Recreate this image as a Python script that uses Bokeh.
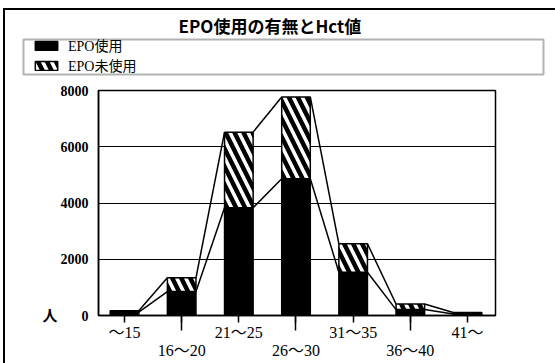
from bokeh.plotting import figure
from bokeh.layouts import column, row
from bokeh.models import (Range1d, FixedTicker, Legend, LegendItem,
                          ColumnDataSource, LinearAxis, BoxAnnotation)
from bokeh.embed import file_html
from bokeh.resources import INLINE

# ---- data ----
categories = ["〜15", "16〜20", "21〜25", "26〜30", "31〜35", "36〜40", "41〜"]
epo_used = [120, 850, 3830, 4860, 1540, 210, 50]
epo_not_used = [50, 490, 2690, 2910, 1010, 200, 60]
y_ticks = [0, 2000, 4000, 6000, 8000]
series_names = ["EPO使用", "EPO未使用"]
title_text = "EPO使用の有無とHct値"
y_unit = "人"

SERIF = "Liberation Serif, Noto Sans CJK JP"
SANS = "Noto Sans CJK JP"
BAR_W = 0.5
USED_STYLE = dict(fill_color="black", line_color="black", line_width=1.5)
NOT_STYLE = dict(fill_color="white", line_color="black", line_width=1.5,
                 hatch_pattern="\\", hatch_color="black",
                 hatch_scale=18, hatch_weight=4.5)

xs = list(range(len(categories)))
totals = [a + b for a, b in zip(epo_used, epo_not_used)]
src = ColumnDataSource(dict(x=xs, used=epo_used, total=totals))

# ---------------- header: title + legend ----------------
head = figure(width=550, height=70, x_range=Range1d(0, 1), y_range=Range1d(0, 1),
              x_axis_type=None, y_axis_type=None,
              output_backend="svg", toolbar_location=None,
              min_border_left=0, min_border_right=0,
              min_border_top=0, min_border_bottom=0,
              background_fill_color="white", border_fill_color="white")
head.outline_line_color = None
head.grid.visible = False
head.title.text = title_text
head.title.text_font = SANS
head.title.text_font_style = "bold"
head.title.text_font_size = "17px"
head.title.text_color = "black"
head.title.align = "left"
head.title.offset = 173
head.title.standoff = 0

# full-width legend box
head.add_layout(BoxAnnotation(left=18, right=538, top=29, bottom=64,
                              left_units="canvas", right_units="canvas",
                              top_units="canvas", bottom_units="canvas",
                              fill_alpha=0, line_color="black", line_width=2))

# legend proxies (same series, not drawn in the header itself)
h_used = head.vbar(x="x", top="used", width=BAR_W, source=src,
                   visible=False, **USED_STYLE)
h_not = head.vbar(x="x", bottom="used", top="total", width=BAR_W, source=src,
                  visible=False, **NOT_STYLE)
legend = Legend(items=[LegendItem(label=series_names[0], renderers=[h_used]),
                       LegendItem(label=series_names[1], renderers=[h_not])],
                location=(27, 5), orientation="vertical",
                label_text_font=SERIF, label_text_font_size="14px",
                label_text_line_height=0.8,
                label_text_color="black",
                glyph_width=28, glyph_height=11, label_standoff=8,
                label_height=13, spacing=-5, padding=0, margin=0,
                inactive_fill_alpha=0,
                border_line_color=None, background_fill_alpha=0)
head.add_layout(legend)

# ---------------- main chart ----------------
p = figure(width=550, height=283,
           x_range=Range1d(-0.455, 6.49), y_range=Range1d(0, 8000),
           output_backend="svg", toolbar_location=None,
           min_border_left=93, min_border_right=60,
           min_border_top=10, min_border_bottom=48,
           background_fill_color="white", border_fill_color="white")
p.outline_line_color = "black"
p.outline_line_width = 1.5

p.vbar(x="x", bottom=0, top="used", width=BAR_W, source=src, **USED_STYLE)
p.vbar(x="x", bottom="used", top="total", width=BAR_W, source=src, **NOT_STYLE)

# connecting lines between bar corners
seg = ColumnDataSource(dict(
    x0=[v + BAR_W / 2 for v in xs[:-1]] * 2,
    x1=[v - BAR_W / 2 for v in xs[1:]] * 2,
    y0=totals[:-1] + epo_used[:-1],
    y1=totals[1:] + epo_used[1:],
))
p.segment(x0="x0", y0="y0", x1="x1", y1="y1", source=seg,
          line_color="black", line_width=1.5)

# y axis
p.yaxis.ticker = FixedTicker(ticks=y_ticks)
p.yaxis.major_tick_out = 0
p.yaxis.major_tick_in = 0
p.yaxis.minor_tick_out = 0
p.yaxis.minor_tick_in = 0
p.yaxis.major_label_standoff = 10
p.yaxis.major_label_text_font = SERIF
p.yaxis.major_label_text_font_size = "14px"
p.yaxis.major_label_text_font_style = "bold"
p.yaxis.major_label_text_color = "black"
p.yaxis.axis_line_color = "black"
p.yaxis.axis_line_width = 1.5
p.yaxis.formatter.use_scientific = False

# unit label "人" next to the zero tick
unit_axis = LinearAxis(ticker=FixedTicker(ticks=[0]),
                       major_label_overrides={0: y_unit},
                       axis_line_color=None,
                       major_tick_out=0, major_tick_in=0,
                       minor_tick_out=0, minor_tick_in=0,
                       major_label_standoff=0,
                       major_label_text_font=SERIF,
                       major_label_text_font_size="15px",
                       major_label_text_font_style="bold",
                       major_label_text_color="black")
p.add_layout(unit_axis, "left")

# x axis with staggered labels
p.xaxis.ticker = FixedTicker(ticks=xs, minor_ticks=xs[1::2])
p.xaxis.major_label_overrides = {
    i: (c if i % 2 == 0 else " \n" + c) for i, c in enumerate(categories)
}
p.xaxis.major_tick_out = 7
p.xaxis.major_tick_in = 0
p.xaxis.minor_tick_out = 15
p.xaxis.minor_tick_in = 0
p.xaxis.major_tick_line_width = 1.5
p.xaxis.minor_tick_line_width = 1.5
p.xaxis.major_tick_line_color = "black"
p.xaxis.minor_tick_line_color = "black"
p.xaxis.major_label_standoff = -7
p.xaxis.major_label_text_font = SERIF
p.xaxis.major_label_text_font_size = "16px"
p.xaxis.major_label_text_line_height = 1.1
p.xaxis.major_label_text_color = "black"
p.xaxis.axis_line_color = "black"
p.xaxis.axis_line_width = 1.5

p.xgrid.visible = False
p.ygrid.ticker = FixedTicker(ticks=y_ticks)
p.ygrid.grid_line_color = "black"
p.ygrid.grid_line_width = 1.2

# outer frame of the whole chart (left and top edges visible in the reference)
layout = column(row(head, spacing=0), p, spacing=0, margin=(8, 0, 0, 3),
                styles={"border-left": "2px solid black",
                        "border-top": "2px solid black"})

open("out.html", "w").write(file_html(layout, INLINE))
